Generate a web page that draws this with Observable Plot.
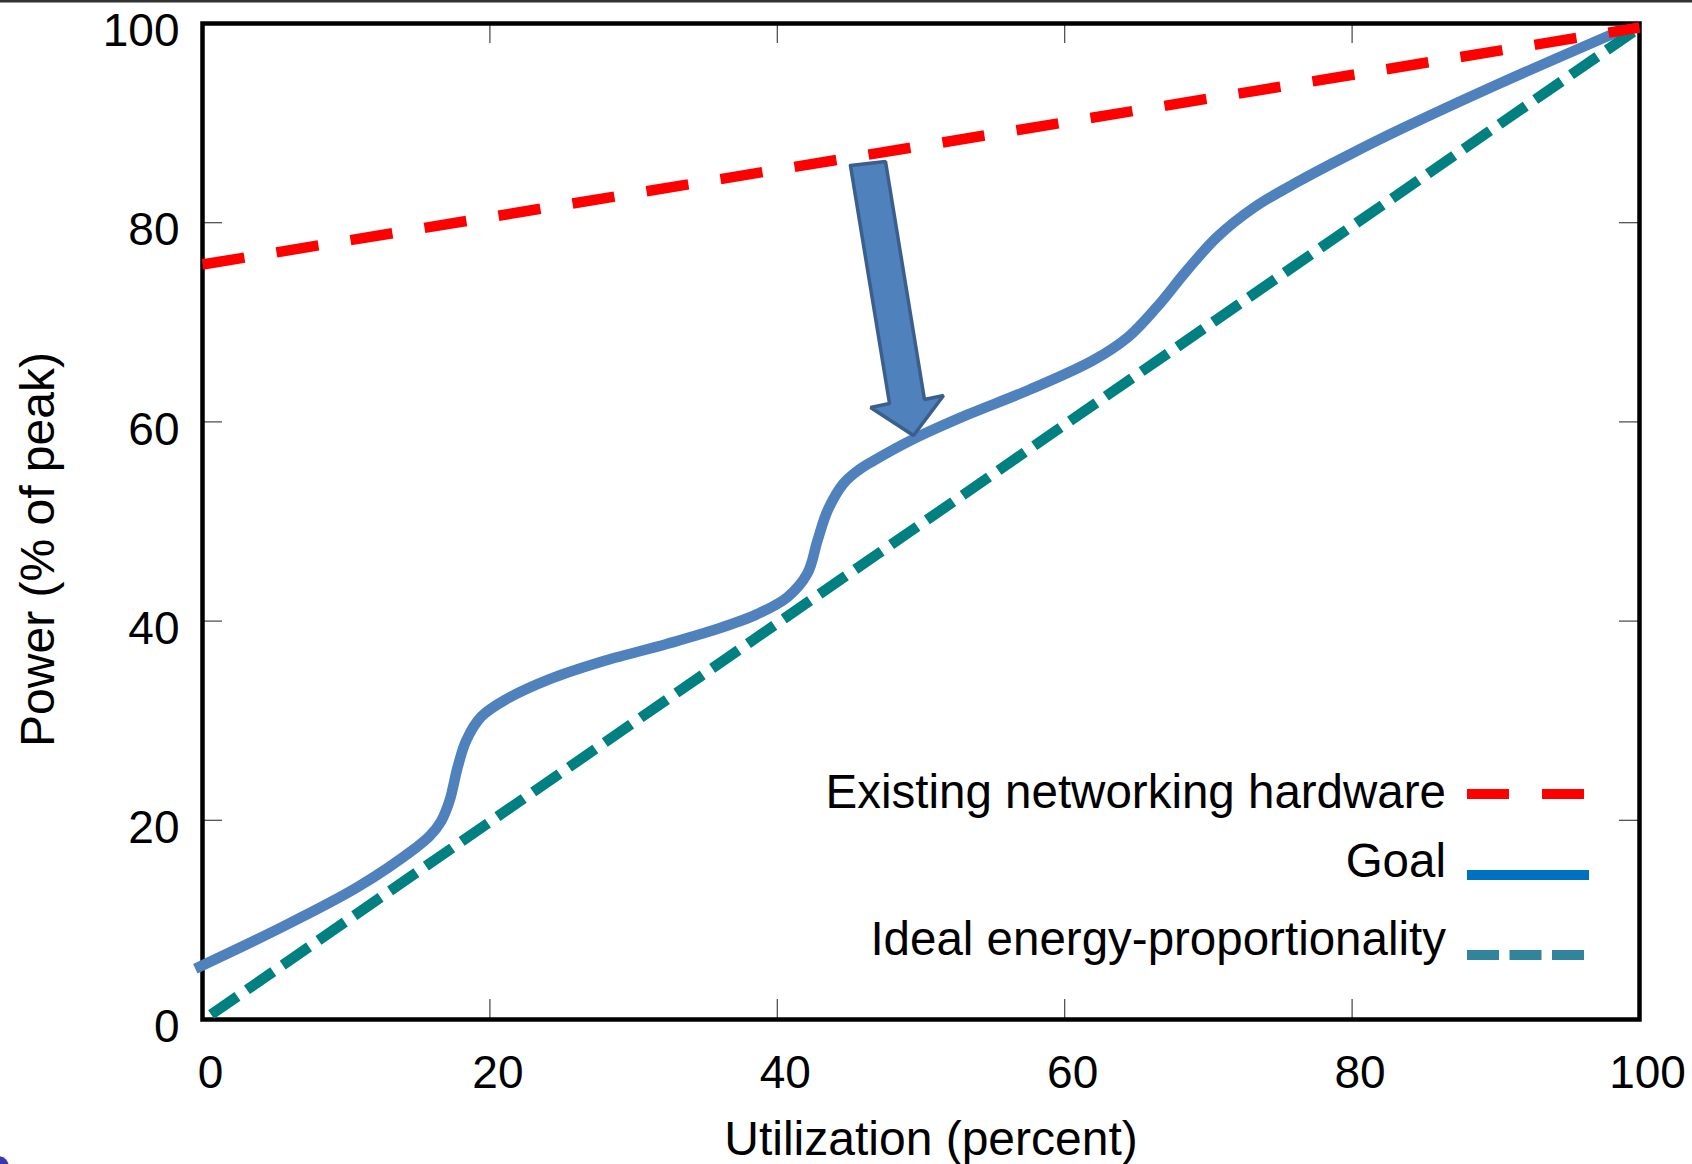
<!DOCTYPE html>
<html><head><meta charset="utf-8">
<script src="https://cdn.jsdelivr.net/npm/d3@7"></script>
<script src="https://cdn.jsdelivr.net/npm/@observablehq/plot@0.6"></script>
<style>
html,body{margin:0;padding:0;background:#fff;}
#wrap{position:relative;width:1692px;height:1164px;overflow:hidden;}
svg{display:block;}
</style></head><body><div id="wrap"></div>
<script>
// ---- data ----
const xTicks = [0, 20, 40, 60, 80, 100];
const yTicks = [0, 20, 40, 60, 80, 100];
const xTitle = "Utilization (percent)";
const yTitle = "Power (% of peak)";
const seriesNames = ["Existing networking hardware", "Goal", "Ideal energy-proportionality"];

const existingX = [0, 100];
const existingY = [75.8, 99.6];

const idealX = [0.6, 100];
const idealY = [0.5, 99.6];

const goalX = [-0.5, 5.0, 10.8, 14.9, 15.8, 16.6, 17.2, 17.75, 18.35, 19.4, 21.2, 24.2, 27.7, 32.3, 35.8, 38.6, 40.7,
  42.1, 42.8, 43.5, 44.6, 45.6, 46.7, 49.5, 53.2, 57.5, 62.0, 64.4, 66.4, 68.5, 70.6, 73.2, 76.4, 79.9, 83.4, 90.3, 98.7];
const goalY = [5.1, 8.9, 13.3, 17.3, 18.4, 19.9, 22.0, 25.3, 28.0, 30.4, 32.2, 34.2, 35.9, 37.7, 39.2, 40.7, 42.4,
  44.8, 48.1, 51.1, 53.8, 55.1, 56.1, 58.3, 60.7, 63.2, 66.2, 68.5, 71.5, 75.2, 78.55, 81.55, 84.25, 86.9, 89.4, 94.0, 99.3];

// block arrow outline (data units)
const arrowX = [45.09, 47.53, 50.24, 51.57, 49.48, 46.49, 47.81, 45.09];
const arrowY = [85.74, 86.14, 62.25, 62.65, 58.63, 61.45, 61.85, 85.74];

const seriesColors = ["#ff0000", "#4f81bd", "#008080"];
const legendSwatchColors = ["#ff0000", "#0070c0", "#31849b"];

// ---- build ----
const W = 1692, H = 1164, mL = 202, mR = 53, mT = 23, mB = 145;
const innerH = H - mT - mB, innerW = W - mL - mR, tickLen = 20;
const font = "'Liberation Sans', Arial, Helvetica, sans-serif";

const zip = (xs, ys) => xs.map((x, i) => ({x, y: ys[i]}));
const existing = zip(existingX, existingY);
const ideal = zip(idealX, idealY);
const goal = zip(goalX, goalY);
const arrow = zip(arrowX, arrowY);

const chart = Plot.plot({
  width: W, height: H,
  marginLeft: mL, marginRight: mR, marginTop: mT, marginBottom: mB,
  x: {domain: [0, 100]},
  y: {domain: [0, 100]},
  style: {fontFamily: font, fontSize: "46px", background: "#fff", color: "#000", overflow: "visible"},
  marks: [
    Plot.ruleX(xTicks, {x: d => d, insetTop: innerH - tickLen, stroke: "#444", strokeWidth: 1.2}),
    Plot.ruleX(xTicks, {x: d => d, insetBottom: innerH - tickLen, stroke: "#444", strokeWidth: 1.2}),
    Plot.ruleY(yTicks, {y: d => d, insetRight: innerW - tickLen, stroke: "#444", strokeWidth: 1.2}),
    Plot.ruleY(yTicks, {y: d => d, insetLeft: innerW - tickLen, stroke: "#444", strokeWidth: 1.2}),
    Plot.frame({stroke: "#000", strokeWidth: 4.5}),
    Plot.axisX({ticks: xTicks, tickSize: 0, tickPadding: 36, fontSize: 46, dx: 8, label: null}),
    Plot.axisY({ticks: yTicks, tickSize: 0, tickPadding: 23, fontSize: 46, dy: 8, label: null}),
    Plot.text([xTitle], {frameAnchor: "bottom", textAnchor: "middle", dx: 10, dy: 135, fontSize: 48}),
    Plot.text([yTitle], {frameAnchor: "left", textAnchor: "middle", rotate: -90, dx: -164, dy: 28, fontSize: 48}),
    Plot.line(goal, {x: "x", y: "y", curve: "catmull-rom", stroke: seriesColors[1], strokeWidth: 10.5, strokeLinecap: "butt"}),
    Plot.line(ideal, {x: "x", y: "y", stroke: seriesColors[2], strokeWidth: 10.5, strokeDasharray: "32,11.5", strokeLinecap: "butt"}),
    Plot.line(existing, {x: "x", y: "y", stroke: seriesColors[0], strokeWidth: 10.5, strokeDasharray: "42.5,32.5", strokeLinecap: "butt"}),
    Plot.line(arrow, {x: "x", y: "y", fill: "#4f81bd", stroke: "#3b5f8c", strokeWidth: 3.5, strokeLinejoin: "miter"})
  ]
});

document.getElementById("wrap").appendChild(chart);

// ---- in-plot legend & page decorations ----
const svg = d3.select(chart);
const lg = svg.append("g").attr("font-family", font).attr("font-size", 47.5).attr("fill", "#000");
const rows = [
  {textY: 808, swY: 794, dash: "42,33", x2: 1584},
  {textY: 877, swY: 875, dash: null, x2: 1589},
  {textY: 955, swY: 955, dash: "32,10.5", x2: 1584}
];
rows.forEach((r, i) => {
  lg.append("text").attr("x", 1446).attr("y", r.textY).attr("text-anchor", "end").text(seriesNames[i]);
  const ln = lg.append("line").attr("x1", 1467).attr("x2", r.x2).attr("y1", r.swY).attr("y2", r.swY)
    .attr("stroke", legendSwatchColors[i]).attr("stroke-width", 10);
  if (r.dash) ln.attr("stroke-dasharray", r.dash);
});
svg.append("rect").attr("x", 0).attr("y", 0).attr("width", W).attr("height", 2.5).attr("fill", "#333");
svg.append("circle").attr("cx", -2).attr("cy", 1167).attr("r", 11).attr("fill", "#3838b0");
</script>
</body></html>
